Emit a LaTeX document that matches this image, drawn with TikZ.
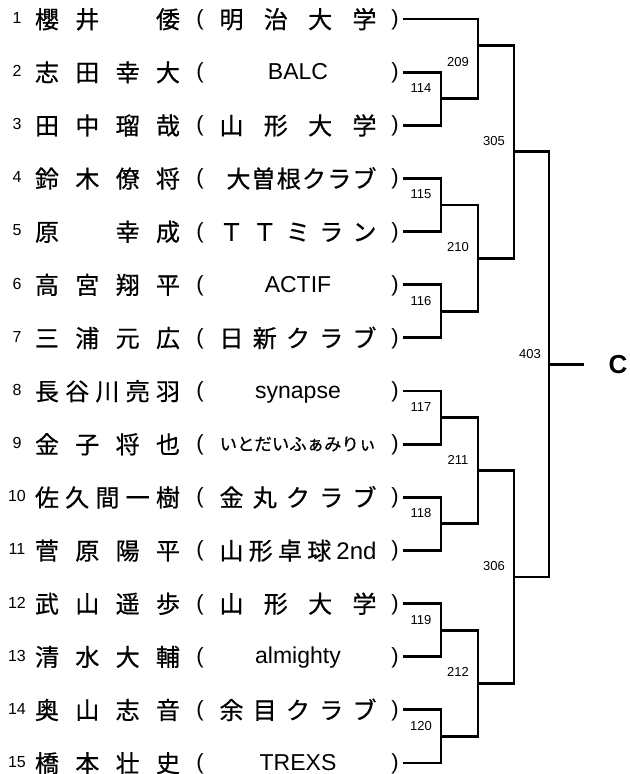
\documentclass[tikz,border=0pt]{standalone}
\usepackage{fontspec}
\setmainfont{Liberation Sans}
\newfontfamily\jpfont[FakeBold=0.6]{Noto Sans CJK JP}
\usetikzlibrary{calc}

\newcommand{\blankslot}{\hbox to 1em{}}
\newcommand{\spreadname}[1]{\makebox[145bp][s]{#1}}
\newcommand{\spreadclub}[1]{\makebox[157bp][s]{#1}}
\newcommand{\latinclub}[1]{\rmfamily\fontsize{23bp}{23bp}\selectfont\raisebox{2bp}{#1}}
\newcommand{\smallclub}[1]{\fontsize{17.4bp}{17.4bp}\selectfont\raisebox{3bp}{#1}}
\tikzset{seed/.style={font=\fontsize{16bp}{16bp}\selectfont, inner sep=0pt},
    player/.style={font=\jpfont\fontsize{24bp}{24bp}\selectfont, inner sep=0pt, anchor=base},
    paren/.style={font=\fontsize{22bp}{22bp}\selectfont, inner sep=0pt, anchor=base},
    matchno/.style={font=\fontsize{13bp}{13bp}\selectfont, inner sep=0pt},
    champ/.style={font=\bfseries\fontsize{26bp}{26bp}\selectfont, inner sep=0pt},
    bracket/.style={line width=2.9bp}}

\begin{document}
\begin{tikzpicture}[x=1bp, y=-1bp]
    \useasboundingbox (0,0) rectangle (630,774);

    % players and clubs
    \foreach \i/\who/\team in {
        1/{櫻\hfil 井\hfil \blankslot\hfil 倭}/{\spreadclub{明\hfil 治\hfil 大\hfil 学}},
        2/{志\hfil 田\hfil 幸\hfil 大}/{\latinclub{BALC}},
        3/{田\hfil 中\hfil 瑠\hfil 哉}/{\spreadclub{山\hfil 形\hfil 大\hfil 学}},
        4/{鈴\hfil 木\hfil 僚\hfil 将}/{\makebox[157bp][r]{\makebox[150bp][s]{大\hfil 曽\hfil 根\hfil ク\hfil ラ\hfil ブ}}},
        5/{原\hfil \blankslot\hfil 幸\hfil 成}/{\spreadclub{Ｔ\hfil Ｔ\hfil ミ\hfil ラ\hfil ン}},
        6/{高\hfil 宮\hfil 翔\hfil 平}/{\latinclub{ACTIF}},
        7/{三\hfil 浦\hfil 元\hfil 広}/{\spreadclub{日\hfil 新\hfil ク\hfil ラ\hfil ブ}},
        8/{長\hfil 谷\hfil 川\hfil 亮\hfil 羽}/{\latinclub{synapse}},
        9/{金\hfil 子\hfil 将\hfil 也}/{\smallclub{いとだいふぁみりぃ}},
        10/{佐\hfil 久\hfil 間\hfil 一\hfil 樹}/{\spreadclub{金\hfil 丸\hfil ク\hfil ラ\hfil ブ}},
        11/{菅\hfil 原\hfil 陽\hfil 平}/{\spreadclub{山\hfil 形\hfil 卓\hfil 球\hfil {\rmfamily 2nd}}},
        12/{武\hfil 山\hfil 遥\hfil 歩}/{\spreadclub{山\hfil 形\hfil 大\hfil 学}},
        13/{清\hfil 水\hfil 大\hfil 輔}/{\latinclub{almighty}},
        14/{奥\hfil 山\hfil 志\hfil 音}/{\spreadclub{余\hfil 目\hfil ク\hfil ラ\hfil ブ}},
        15/{橋\hfil 本\hfil 壮\hfil 史}/{\latinclub{TREXS}}}{
        \pgfmathsetmacro{\y}{19+53.14*(\i-1)}
        \node[seed] (s\i) at (17,\y-1) {\i};
        \node[player] (p\i) at (107.5,\y+9.3) {\spreadname{\who}};
        \node[paren] (l\i) at (200,\y+6.5) {(};
        \node[player] (c\i) at (298,\y+9.3) {\team};
        \node[paren] (r\i) at (395,\y+6.5) {)};
        \coordinate (e\i) at (403,\y);
    }

    % first round
    \foreach \a/\b/\m in {2/3/114, 4/5/115, 6/7/116, 8/9/117, 10/11/118, 12/13/119, 14/15/120}{
        \coordinate (m\m) at ($(e\a)!.5!(e\b)+(38,0)$);
        \draw[bracket] (e\a) -| (m\m) |- (e\b);
        \node[matchno] (n\m) at ($(e\a)+(18,16)$) {\m};
    }

    % second round
    \coordinate (m209) at ($(e1)!.5!(e2)+(75,0)$);
    \coordinate (m210) at ($(m115)!.5!(m116)+(37,0)$);
    \coordinate (m211) at ($(m117)!.5!(m118)+(37,0)$);
    \coordinate (m212) at ($(m119)!.5!(m120)+(37,0)$);
    \draw[bracket] (e1) -| (m209) |- (m114);
    \draw[bracket] (m115) -| (m210) |- (m116);
    \draw[bracket] (m117) -| (m211) |- (m118);
    \draw[bracket] (m119) -| (m212) |- (m120);
    \node[matchno] (n209) at ($(m209)+(-20,16.5)$) {209};
    \node[matchno] (n210) at ($(m210)+(-20,-11)$) {210};
    \node[matchno] (n211) at ($(m211)+(-20,-11)$) {211};
    \node[matchno] (n212) at ($(m212)+(-20,-11)$) {212};

    % semi final and final
    \coordinate (m305) at ($(m209)!.5!(m210)+(36,0)$);
    \coordinate (m306) at ($(m211)!.5!(m212)+(36,0)$);
    \coordinate (m403) at ($(m305)!.5!(m306)+(35,0)$);
    \draw[bracket] (m209) -| (m305) |- (m210);
    \draw[bracket] (m211) -| (m306) |- (m212);
    \draw[bracket] (m305) -| (m403) |- (m306);
    \node[matchno] (n305) at ($(m305)+(-20,-11)$) {305};
    \node[matchno] (n306) at ($(m306)+(-20,-11)$) {306};
    \node[matchno] (n403) at ($(m403)+(-19,-10.5)$) {403};

    \coordinate (cend) at ($(m403)+(35,0)$);
    \draw[bracket] (m403) -- (cend);
    \node[champ] (win) at ($(m403)+(69,0)$) {C};

\end{tikzpicture}
\end{document}
